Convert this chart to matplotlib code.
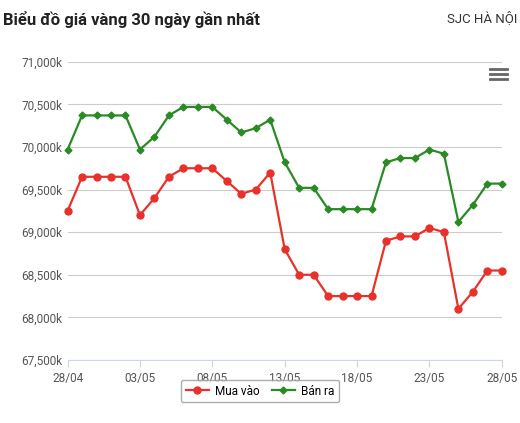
import matplotlib
matplotlib.use("Agg")
import matplotlib.pyplot as plt
from matplotlib.ticker import FuncFormatter

days = list(range(31))
tick_pos = [0, 5, 10, 15, 20, 25, 30]
tick_labels = ["28/04", "03/05", "08/05", "13/05", "18/05", "23/05", "28/05"]

mua_vao = [69250, 69650, 69650, 69650, 69650, 69200, 69400, 69650, 69750, 69750,
           69750, 69600, 69450, 69500, 69700, 68800, 68500, 68500, 68250, 68250,
           68250, 68250, 68900, 68950, 68950, 69050, 69000, 68100, 68300, 68550, 68550]
ban_ra = [69970, 70370, 70370, 70370, 70370, 69970, 70120, 70370, 70470, 70470,
          70470, 70320, 70170, 70220, 70320, 69820, 69520, 69520, 69270, 69270,
          69270, 69270, 69820, 69870, 69870, 69970, 69920, 69120, 69320, 69570, 69570]

plt.rcParams["font.family"] = ["Roboto", "DejaVu Sans"]
fig = plt.figure(figsize=(5.2, 4.23), dpi=100)
ax = fig.add_axes([0.13, 0.149, 0.835, 0.705])

red = "#e8312a"
green = "#2a8a24"
ax.plot(days, mua_vao, color=red, marker="o", markersize=5, lw=1.6, label="Mua vào", clip_on=False, zorder=3)
ax.plot(days, ban_ra, color=green, marker="D", markersize=3.5, lw=1.6, label="Bán ra", clip_on=False, zorder=3)

ax.set_xlim(0, 30)
ax.set_ylim(67500, 71000)
ax.set_yticks(range(67500, 71001, 500))
ax.yaxis.set_major_formatter(FuncFormatter(lambda v, p: f"{int(v):,}k"))
ax.set_xticks(tick_pos)
ax.set_xticklabels(tick_labels)
ax.grid(axis="y", color="#cccccc", lw=0.8)
for s in ["top", "right", "left"]:
    ax.spines[s].set_visible(False)
ax.spines["bottom"].set_color("#ccd6eb")
ax.tick_params(axis="y", length=0, labelsize=8.5, colors="#555555")
ax.tick_params(axis="x", length=5, color="#ccd6eb", labelsize=8.5, colors="#555555")

fig.text(0.005, 0.975, "Biểu đồ giá vàng 30 ngày gần nhất", fontsize=12, fontweight="bold", va="top", color="#222222")
fig.text(0.995, 0.975, "SJC HÀ NỘI", fontsize=9.5, va="top", ha="right", color="#333333")
for dy in (0, 0.012, 0.024):
    fig.add_artist(plt.Line2D([0.943, 0.975], [0.838 - dy, 0.838 - dy], color="#666666", lw=2))

fig.legend(loc="lower center", bbox_to_anchor=(0.5, 0.035), ncol=2, fontsize=8.5,
           frameon=True, edgecolor="#999999", fancybox=True, handlelength=2,
           columnspacing=1.0, handletextpad=0.5)
fig.savefig("out.png")
